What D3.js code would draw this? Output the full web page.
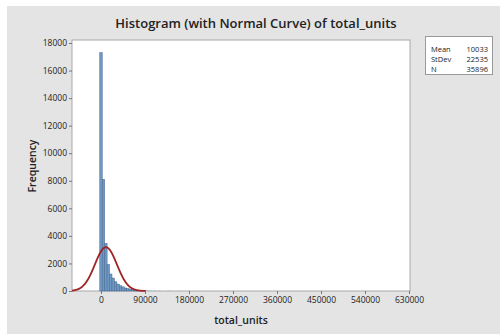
<!DOCTYPE html>
<html>
<head>
<meta charset="utf-8">
<script src="https://cdn.jsdelivr.net/npm/d3@7"></script>
<style>
  body { margin: 0; background: #fff; }
  text { font-family: "Open Sans", "DejaVu Sans", sans-serif; fill: #222; }
</style>
</head>
<body>
<div id="chart"></div>
<script>
// bin centres (width 5000) and counts
var binWidth = 5000;
var binCenters = [0, 5000, 10000, 15000, 20000, 25000, 30000, 35000, 40000, 45000,
                  50000, 55000, 60000, 65000, 70000, 75000, 80000, 85000, 90000, 95000,
                  100000, 110000, 120000, 140000, 160000, 180000, 200000, 230000, 260000, 280000,
                  300000, 450000, 620000];
var counts = [17300, 8100, 3450, 1930, 1230, 940, 670, 500, 380, 300,
              220, 170, 130, 100, 80, 60, 50, 40, 30, 25,
              20, 18, 15, 12, 10, 8, 6, 5, 5, 4,
              3, 2, 2];

var yTicks = [0, 2000, 4000, 6000, 8000, 10000, 12000, 14000, 16000, 18000];
var xTicks = [0, 90000, 180000, 270000, 360000, 450000, 540000, 630000];

var statLabels = ["Mean", "StDev", "N"];
var statValues = [10033, 22535, 35896];

var width = 500, height = 334;
var plot = {left: 72, top: 40, right: 410, bottom: 291};

var svg = d3.select("#chart").append("svg")
    .attr("width", width)
    .attr("height", height);

// grey panel
svg.append("rect")
    .attr("x", 7).attr("y", 6)
    .attr("width", width - 7).attr("height", height - 6)
    .attr("fill", "#e4e4e4");

var x = d3.scaleLinear().domain([0, 630000]).range([101, 409]);
var y = d3.scaleLinear().domain([0, 18000]).range([plot.bottom, 43]);

// plot area
svg.append("rect")
    .attr("x", plot.left).attr("y", plot.top)
    .attr("width", plot.right - plot.left).attr("height", plot.bottom - plot.top)
    .attr("fill", "#fff")
    .attr("stroke", "#a8a8a8");

// bars (tiny tail bars get no outline so they stay faint)
svg.append("g").selectAll("rect")
    .data(binCenters)
    .enter()
    .append("rect")
    .attr("x", function(d){ return x(d - binWidth / 2); })
    .attr("width", function(d){ return x(d + binWidth / 2) - x(d - binWidth / 2); })
    .attr("y", function(d, i){ return y(counts[i]); })
    .attr("height", function(d, i){ return plot.bottom - y(counts[i]); })
    .attr("fill", "#7098c4")
    .attr("stroke", function(d, i){ return counts[i] > 50 ? "#43658c" : "none"; })
    .attr("stroke-width", 0.5);

// normal curve from the displayed stats
var mean = statValues[0], sd = statValues[1], n = statValues[2];
var xmin = x.invert(plot.left), xmax = 92000;
var curve = d3.range(xmin, xmax, 500).map(function(v){
    var z = (v - mean) / sd;
    return [v, n * binWidth * Math.exp(-0.5 * z * z) / (sd * Math.sqrt(2 * Math.PI))];
});
svg.append("path")
    .datum(curve)
    .attr("d", d3.line().x(function(d){ return x(d[0]); }).y(function(d){ return y(d[1]); }))
    .attr("fill", "none")
    .attr("stroke", "#9e2424")
    .attr("stroke-width", 1.8);

// axes
var yAxis = d3.axisLeft(y).tickValues(yTicks).tickFormat(d3.format("d")).tickSize(3).tickPadding(2);
svg.append("g")
    .attr("transform", "translate(" + plot.left + ",0)")
    .call(yAxis)
    .call(function(g){
        g.select(".domain").remove();
        g.selectAll("line").attr("stroke", "#777");
        g.selectAll("text").attr("font-size", 8.5).attr("fill", "#222");
    });

var xAxis = d3.axisBottom(x).tickValues(xTicks).tickFormat(d3.format("d")).tickSize(3).tickPadding(3);
svg.append("g")
    .attr("transform", "translate(0," + plot.bottom + ")")
    .call(xAxis)
    .call(function(g){
        g.select(".domain").remove();
        g.selectAll("line").attr("stroke", "#777");
        g.selectAll("text").attr("font-size", 8.5).attr("fill", "#222");
    });

// title and axis labels
svg.append("text")
    .attr("x", 256).attr("y", 28)
    .attr("text-anchor", "middle")
    .attr("font-size", 13)
    .attr("font-weight", 600)
    .text("Histogram (with Normal Curve) of total_units");

svg.append("text")
    .attr("x", 241).attr("y", 324)
    .attr("text-anchor", "middle")
    .attr("font-size", 10.5)
    .attr("font-weight", 600)
    .text("total_units");

svg.append("text")
    .attr("transform", "translate(36,166) rotate(-90)")
    .attr("text-anchor", "middle")
    .attr("font-size", 10.5)
    .attr("font-weight", 600)
    .text("Frequency");

// stats box
svg.append("rect")
    .attr("x", 425.5).attr("y", 36.5)
    .attr("width", 67).attr("height", 38)
    .attr("fill", "#fff")
    .attr("stroke", "#999");

var stats = svg.append("g");
statLabels.forEach(function(lbl, i){
    stats.append("text")
        .attr("x", 431).attr("y", 52 + i * 10)
        .attr("font-size", 7.5)
        .text(lbl);
    stats.append("text")
        .attr("x", 488).attr("y", 52 + i * 10)
        .attr("text-anchor", "end")
        .attr("font-size", 7.5)
        .text(statValues[i]);
});
</script>
</body>
</html>
